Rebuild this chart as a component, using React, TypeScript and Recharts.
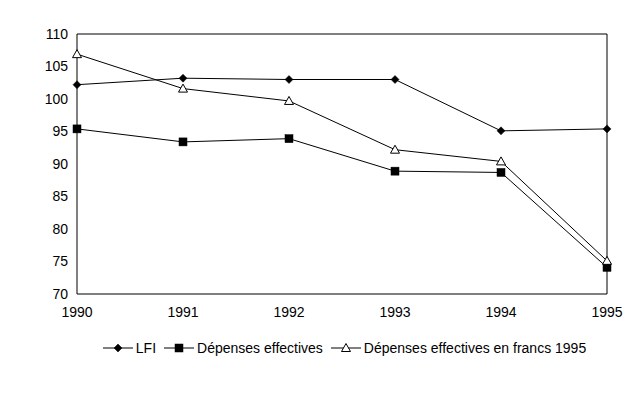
import React from "react";
import { LineChart, Line, XAxis, YAxis, Legend, ReferenceLine } from "recharts";

const years = ["1990", "1991", "1992", "1993", "1994", "1995"];
const lfi = [102.2, 103.2, 103.0, 103.0, 95.1, 95.4];
const depenses = [95.4, 93.4, 93.9, 88.9, 88.7, 74.1];
const francs1995 = [106.9, 101.6, 99.7, 92.2, 90.4, 75.1];
const yTicks = [70, 75, 80, 85, 90, 95, 100, 105, 110];

const data = years.map((y, i) => ({
  year: y,
  lfi: lfi[i],
  dep: depenses[i],
  fr: francs1995[i],
}));

const FONT = "'Liberation Sans', Arial, sans-serif";

type Shape = "diamond" | "square" | "triangle";

const marker = (shape: Shape, cx: number, cy: number, key?: any) => {
  if (shape === "diamond") {
    return (
      <path key={key} d={`M${cx},${cy - 4}L${cx + 4},${cy}L${cx},${cy + 4}L${cx - 4},${cy}Z`} fill="#000" stroke="#000" strokeWidth={0.5} />
    );
  }
  if (shape === "square") {
    return <rect key={key} x={cx - 4} y={cy - 4} width={8} height={8} fill="#000" stroke="#000" strokeWidth={0.5} />;
  }
  return (
    <path key={key} d={`M${cx},${cy - 4.5}L${cx + 4.5},${cy + 3.5}L${cx - 4.5},${cy + 3.5}Z`} fill="#fff" stroke="#000" strokeWidth={1} />
  );
};

const makeDot = (shape: Shape) => (props: any) => {
  const { cx, cy, index } = props;
  if (cx == null || cy == null) return <g key={index} />;
  return marker(shape, cx, cy, index);
};

const legendItems: { label: string; shape: Shape }[] = [
  { label: "LFI", shape: "diamond" },
  { label: "Dépenses effectives", shape: "square" },
  { label: "Dépenses effectives en francs 1995", shape: "triangle" },
];

const CustomLegend = () => (
  <div style={{ display: "flex", justifyContent: "center", alignItems: "center", fontFamily: FONT, fontSize: 14, color: "#000", paddingLeft: 56 }}>
    {legendItems.map((it) => (
      <div key={it.label} style={{ display: "flex", alignItems: "center", marginRight: 7 }}>
        <svg width={32} height={12} style={{ marginRight: 2 }}>
          <line x1={1} y1={6} x2={31} y2={6} stroke="#000" strokeWidth={1} />
          {marker(it.shape, 16, 6)}
        </svg>
        <span>{it.label}</span>
      </div>
    ))}
  </div>
);

export default function App() {
  return (
    <div style={{ position: "absolute", left: 0, top: 0, width: 639, height: 394, background: "#fff" }}>
      <LineChart width={639} height={394} data={data} margin={{ top: 34, right: 32, bottom: 54, left: 37 }}>
        <XAxis
          dataKey="year"
          stroke="#000"
          tickLine={false}
          tickMargin={7}
          tick={{ fill: "#000", fontSize: 14, fontFamily: FONT }}
          interval={0}
          padding={{ left: 0, right: 0 }}
        />
        <YAxis
          domain={[70, 110]}
          ticks={yTicks}
          width={40}
          stroke="#000"
          tickLine={false}
          tickMargin={3}
          interval={0}
          tick={{ fill: "#000", fontSize: 14, fontFamily: FONT }}
        />
        <ReferenceLine y={110} stroke="#000" strokeWidth={1} />
        <ReferenceLine x="1995" stroke="#000" strokeWidth={1} />
        <Line type="linear" dataKey="lfi" stroke="#000" strokeWidth={1} dot={makeDot("diamond")} isAnimationActive={false} />
        <Line type="linear" dataKey="dep" stroke="#000" strokeWidth={1} dot={makeDot("square")} isAnimationActive={false} />
        <Line type="linear" dataKey="fr" stroke="#000" strokeWidth={1} dot={makeDot("triangle")} isAnimationActive={false} />
        <Legend content={<CustomLegend />} wrapperStyle={{ top: 340, left: 0, width: 639 }} />
      </LineChart>
    </div>
  );
}
